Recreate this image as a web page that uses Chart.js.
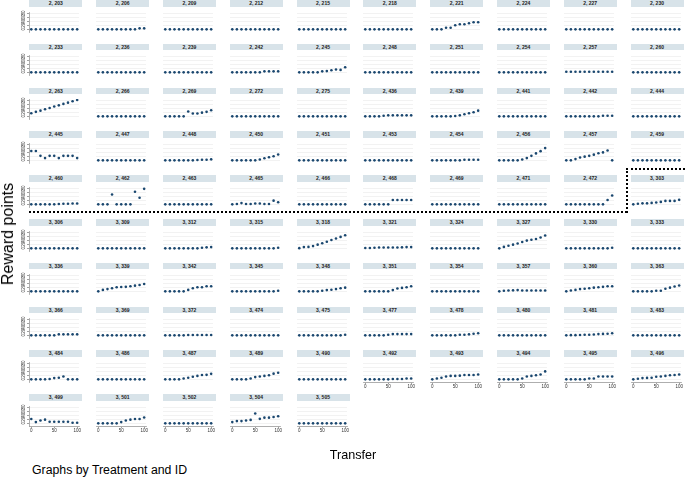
<!DOCTYPE html>
<html>
<head>
<meta charset="utf-8">
<script src="https://cdn.jsdelivr.net/npm/chart.js@4/dist/chart.umd.min.js"></script>
<style>
  body { margin: 0; background: #fff; width: 685px; height: 478px; overflow: hidden; position: relative;
         font-family: "Liberation Sans", Arial, sans-serif; }
  .hdr { position: absolute; background: #d8e3e9; font-size: 5px; font-weight: bold; color: #222;
         text-align: center; white-space: nowrap; }
  .pane { position: absolute; }
  .txt { position: absolute; white-space: nowrap; color: #000; }
  .dot-h { position: absolute; border-top: 2px dotted #000; height: 0; }
  .dot-v { position: absolute; border-left: 2px dotted #000; width: 0; }
</style>
</head>
<body>
<script>
// transfer levels on the x axis
const transfer = [0, 10, 20, 30, 40, 50, 60, 70, 80, 90, 100];
const yTicks = [0, 20, 40, 60, 80];
const xTicks = [0, 50, 100];

const panelLabels = [
  '2, 203', '2, 206', '2, 209', '2, 212', '2, 215', '2, 218', '2, 221', '2, 224', '2, 227', '2, 230',
  '2, 233', '2, 236', '2, 239', '2, 242', '2, 245', '2, 248', '2, 251', '2, 254', '2, 257', '2, 260',
  '2, 263', '2, 266', '2, 269', '2, 272', '2, 275', '2, 436', '2, 439', '2, 441', '2, 442', '2, 444',
  '2, 445', '2, 447', '2, 448', '2, 450', '2, 451', '2, 453', '2, 454', '2, 456', '2, 457', '2, 459',
  '2, 460', '2, 462', '2, 463', '2, 465', '2, 466', '2, 468', '2, 469', '2, 471', '2, 472', '3, 303',
  '3, 306', '3, 309', '3, 312', '3, 315', '3, 318', '3, 321', '3, 324', '3, 327', '3, 330', '3, 333',
  '3, 336', '3, 339', '3, 342', '3, 345', '3, 348', '3, 351', '3, 354', '3, 357', '3, 360', '3, 363',
  '3, 366', '3, 369', '3, 372', '3, 474', '3, 475', '3, 477', '3, 478', '3, 480', '3, 481', '3, 483',
  '3, 484', '3, 486', '3, 487', '3, 489', '3, 490', '3, 492', '3, 493', '3, 494', '3, 495', '3, 496',
  '3, 499', '3, 501', '3, 502', '3, 504', '3, 505'
];

const Z = [0, 0, 0, 0, 0, 0, 0, 0, 0, 0, 0];

// reward points per panel, one value per transfer level
const rewardPoints = [
  // row 1
  Z, [0,0,0,0,0,0,0,0,0,5,5], Z, Z, Z, Z, [0,0,0,8,8,20,25,25,30,35,35], Z, Z, Z,
  // row 2
  Z, Z, Z, [0,0,0,0,0,0,0,5,5,5,5], [0,0,0,0,0,5,6,10,14,12,25], Z, Z, Z, [3,3,3,3,3,3,3,3,3,3,3], Z,
  // row 3
  [15,22,28,35,41,48,54,61,67,74,80], Z, [0,0,0,0,0,24,14,14,18,22,30], Z, Z,
  [0,0,0,0,3,5,5,5,5,5,5], [0,0,0,0,0,2,5,10,15,20,28], Z, [0,0,0,0,0,0,0,0,3,3,3], Z,
  // row 4
  [46,46,22,11,22,22,11,22,22,22,11], Z, [0,0,0,0,0,0,0,2,3,3,5], [0,0,0,0,0,0,4,10,15,20,29], Z,
  Z, [0,0,0,0,0,0,0,3,3,3,3], [0,0,0,0,0,4,11,22,34,45,60], [0,0,6,14,18,22,28,35,39,48,0], Z,
  // row 5
  [0,0,0,0,0,0,2,3,3,4,4], [0,0,0,48,0,0,0,0,62,32,76], Z, [0,2,6,2,2,4,4,2,2,18,10], Z,
  [0,0,0,0,0,0,21,21,21,21,21], Z, Z, [0,0,0,0,0,0,0,0,0,21,43], [0,3,5,5,7,9,12,17,17,17,22],
  // row 6
  Z, Z, [0,0,0,0,0,0,0,0,3,5,6], [0,0,0,0,0,0,0,0,0,0,3], [1,6,7,11,18,25,32,41,48,56,64],
  [2,2,3,4,4,4,4,4,5,6,6], Z, [0,7,13,18,24,31,38,42,46,53,63], [0,0,0,0,0,0,0,0,0,0,3], Z,
  // row 7
  Z, [0,7,11,15,20,21,22,25,28,31,36], [0,0,0,0,0,7,15,20,20,25,25], [0,0,0,0,0,0,0,0,0,0,3], [0,0,0,0,0,3,6,8,11,15,18],
  [0,0,0,0,0,0,6,14,17,20,25], Z, [0,3,4,5,6,4,4,4,4,4,4], [0,4,7,11,13,15,18,20,22,25,25], [0,0,0,0,0,3,3,13,18,24,29],
  // row 8
  [0,0,0,0,0,0,5,5,5,5,5], Z, [0,0,0,0,0,2,2,2,2,2,2], Z, [0,0,0,0,0,0,0,0,0,0,3],
  [0,0,0,0,0,3,6,6,6,6,6], [0,0,0,0,0,0,3,3,5,8,10], Z, [0,1,1,2,3,3,4,6,7,8,10], Z,
  // row 9
  [0,0,0,0,2,6,8,14,0,0,0], Z, [0,0,0,0,4,8,13,17,21,22,27], [0,0,0,0,4,11,14,17,20,28,32], Z,
  [0,0,0,0,0,0,2,2,2,4,4], [0,4,8,14,17,17,18,21,21,21,24], [0,0,0,0,0,4,14,17,20,24,39], [0,0,0,0,0,4,4,14,14,14,14], [0,3,6,7,8,13,14,17,20,21,24],
  // row 10
  [21,6,14,18,8,8,8,8,8,3,3], [0,0,0,0,0,6,14,18,21,21,29], Z, [6,11,11,14,17,48,22,28,28,31,35], Z
];

const COLS = 10;
const colStep = 66.8, rowStep = 43.8;
const left0 = 29.3, top0 = 0;
const plotW = 53, plotH = 24, axW = 15, axH = 12;

// rotated y tick labels like Stata's vertical labels
const yLabels = {
  id: 'yLabels',
  afterDraw(chart, args, opts) {
    if (!opts.show) return;
    const y = chart.scales.y, ctx = chart.ctx;
    ctx.save();
    ctx.font = '4.5px "Liberation Sans"';
    ctx.fillStyle = '#333';
    ctx.textAlign = 'center';
    ctx.textBaseline = 'bottom';
    yTicks.forEach(v => {
      ctx.save();
      ctx.translate(chart.chartArea.left - 3, y.getPixelForValue(v));
      ctx.rotate(-Math.PI / 2);
      ctx.fillText(String(v), 0, 0);
      ctx.restore();
    });
    ctx.restore();
  }
};

panelLabels.forEach((label, i) => {
  const r = Math.floor(i / COLS), c = i % COLS;
  const x0 = left0 + c * colStep, y0 = top0 + r * rowStep;
  const bottom = i + COLS >= panelLabels.length;
  const first = c === 0;

  const hdr = document.createElement('div');
  hdr.className = 'hdr';
  hdr.style.left = x0 + 'px';
  hdr.style.top = y0 + 'px';
  hdr.style.width = plotW + 'px';
  hdr.style.height = '6.5px';
  hdr.style.lineHeight = '6.5px';
  hdr.textContent = label;
  document.body.appendChild(hdr);

  const canvas = document.createElement('canvas');
  canvas.className = 'pane';
  canvas.width = axW + plotW + 1;
  canvas.height = plotH + axH;
  canvas.style.left = (x0 - axW) + 'px';
  canvas.style.top = (y0 + 7.5) + 'px';
  document.body.appendChild(canvas);

  new Chart(canvas, {
    type: 'scatter',
    data: {
      datasets: [{
        data: transfer.map((t, j) => ({ x: t, y: rewardPoints[i][j] })),
        pointRadius: 1.3,
        pointBackgroundColor: '#1a476f',
        pointBorderWidth: 0
      }]
    },
    options: {
      responsive: false,
      animation: false,
      events: [],
      layout: { padding: { top: 0, right: 1, bottom: 0, left: 0 } },
      plugins: {
        legend: { display: false },
        tooltip: { enabled: false },
        yLabels: { show: first }
      },
      scales: {
        x: {
          type: 'linear', min: -5, max: 104,
          afterBuildTicks: s => { s.ticks = xTicks.map(v => ({ value: v })); },
          afterFit: s => { s.height = axH; s.paddingLeft = 0; s.paddingRight = 0; },
          grid: { display: bottom, drawOnChartArea: false, drawTicks: bottom, tickLength: 2, tickColor: '#777', lineWidth: 0.7 },
          border: { display: bottom, color: '#999', width: 0.8 },
          ticks: { display: bottom, font: { size: 4.5, family: 'Liberation Sans' }, color: '#333', padding: 0.5, maxRotation: 0, autoSkip: false }
        },
        y: {
          type: 'linear', min: -13, max: 85,
          afterBuildTicks: s => { s.ticks = yTicks.map(v => ({ value: v })); },
          afterFit: s => { s.width = axW; s.paddingTop = 0; s.paddingBottom = 0; },
          grid: { color: '#ececec', lineWidth: 0.7, drawTicks: first, tickLength: 2, tickColor: '#777' },
          border: { display: first, color: '#999', width: 0.8 },
          ticks: { display: false }
        }
      }
    },
    plugins: [yLabels]
  });
});

// axis titles and note
function addText(txt, css) {
  const d = document.createElement('div');
  d.className = 'txt';
  d.textContent = txt;
  Object.assign(d.style, css);
  document.body.appendChild(d);
  return d;
}
addText('Reward points', { left: '8px', top: '234px', fontSize: '16px', transform: 'translate(-50%, -50%) rotate(-90deg)' });
addText('Transfer', { left: '353px', top: '455px', fontSize: '12.6px', transform: 'translate(-50%, -50%)' });
addText('Graphs by Treatment and ID', { left: '32px', top: '470px', fontSize: '12.3px', transform: 'translate(0, -50%)' });

// dotted separator between treatment 2 and treatment 3
function addLine(cls, css) {
  const d = document.createElement('div');
  d.className = cls;
  Object.assign(d.style, css);
  document.body.appendChild(d);
}
addLine('dot-h', { left: '29px', top: '211px', width: '598px' });
addLine('dot-v', { left: '625.5px', top: '168px', height: '45px' });
addLine('dot-h', { left: '626px', top: '168px', width: '59px' });
</script>
</body>
</html>
